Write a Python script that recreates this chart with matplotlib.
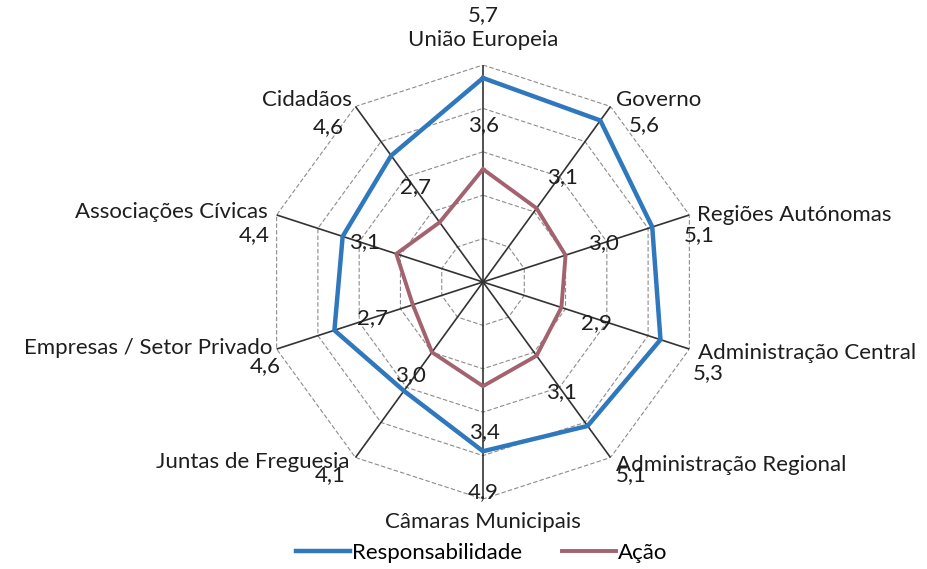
import numpy as np
import matplotlib.pyplot as plt

plt.rcParams['font.family'] = ['Lato', 'DejaVu Sans']

categories = ['União Europeia', 'Governo', 'Regiões Autónomas', 'Administração Central',
              'Administração Regional', 'Câmaras Municipais', 'Juntas de Freguesia',
              'Empresas / Setor Privado', 'Associações Cívicas', 'Cidadãos']
responsabilidade = [5.7, 5.6, 5.1, 5.3, 5.1, 4.9, 4.1, 4.6, 4.4, 4.6]
acao = [3.6, 3.1, 3.0, 2.9, 3.1, 3.4, 3.0, 2.7, 3.1, 2.7]
r_ticks = [2, 3, 4, 5, 6]

blue = '#2F78BD'
mauve = '#A3626F'

# label placement (pixels, y up)
cat_off = [(0, 25, 'center'), (5, 6, 'left'), (8, 0, 'left'), (9, -4, 'left'),
           (5, -7, 'left'), (0, -23, 'center'), (-6, -4, 'right'), (-4, 1, 'right'),
           (-9, 3, 'right'), (-4, 6, 'right')]
resp_off = [(0, 63), (44, -5), (47, -8), (48, -33), (44, -49), (0, -41),
            (-74, -84), (-69, -36), (-88, 1), (-63, 29)]
acao_off = [(1, 44), (26, 31), (38, 12), (35, -16), (25, -36), (1, -46),
            (-22, -23), (-40, -13), (-32, 12), (-24, 35)]

n = len(categories)
theta = np.linspace(0, 2 * np.pi, n, endpoint=False)
theta_c = np.append(theta, theta[0])

fig = plt.figure(figsize=(9.27, 5.69), dpi=100)
ax = fig.add_axes([266 / 927, 70 / 569, 434 / 927, 434 / 569], projection='polar')
ax.set_theta_zero_location('N')
ax.set_theta_direction(-1)
ax.set_ylim(1, 6)
ax.grid(False)
ax.spines['polar'].set_visible(False)
ax.set_xticks([])
ax.set_yticks([])

for rv in r_ticks:
    ax.plot(theta_c, [rv] * (n + 1), color='#8c8c8c', lw=0.8, ls=(0, (4, 2)), zorder=1)
for t in theta:
    ax.plot([t, t], [1, 6], color='#333333', lw=1.2, zorder=2)

ax.plot(theta_c, responsabilidade + responsabilidade[:1], color=blue, lw=3.2,
        label='Responsabilidade', zorder=4)
ax.plot(theta_c, acao + acao[:1], color=mauve, lw=2.8, label='Ação', zorder=3)

fs = 16
txt = '#1e1e1e'
for i in range(n):
    dx, dy, ha = cat_off[i]
    ax.annotate(categories[i], (theta[i], 6), xytext=(dx, dy), textcoords='offset pixels',
                ha=ha, va='center', fontsize=fs, color=txt, annotation_clip=False)
    dx, dy = resp_off[i]
    ax.annotate(f'{responsabilidade[i]:.1f}'.replace('.', ','), (theta[i], responsabilidade[i]),
                xytext=(dx, dy), textcoords='offset pixels', ha='center', va='center',
                fontsize=fs, color=txt, annotation_clip=False)
    dx, dy = acao_off[i]
    ax.annotate(f'{acao[i]:.1f}'.replace('.', ','), (theta[i], acao[i]),
                xytext=(dx, dy), textcoords='offset pixels', ha='center', va='center',
                fontsize=fs, color=txt, annotation_clip=False)

fig.legend(loc='center', bbox_to_anchor=(0.52, 0.028), ncol=2, frameon=False,
           fontsize=fs, handlelength=2.4, handletextpad=0.12, columnspacing=1.8)

fig.savefig('out.png', dpi=100, facecolor='white')
